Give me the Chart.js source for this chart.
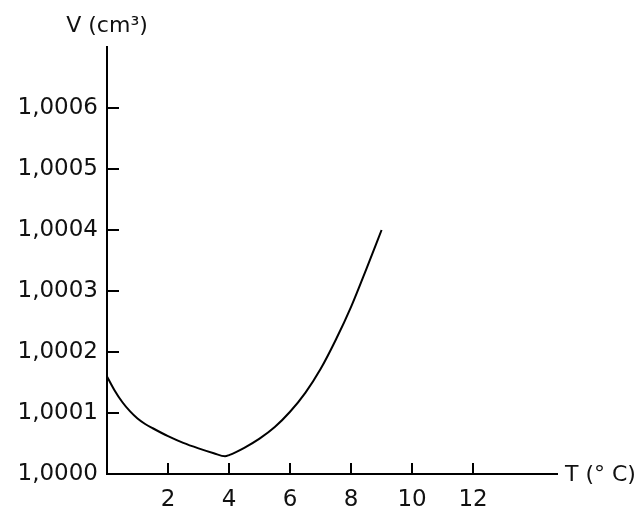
<!DOCTYPE html>
<html>
<head>
<meta charset="utf-8">
<title>V (cm³) - T (° C)</title>
<script src="https://cdn.jsdelivr.net/npm/chart.js@4.4.0/dist/chart.umd.min.js"></script>
<style>
  html, body { margin: 0; padding: 0; background: #fff; }
  #wrap { width: 639px; height: 510px; position: relative; }
</style>
</head>
<body>
<div id="wrap"><canvas id="volChart"></canvas></div>
<script>
// Data
const temps = [0, 0.25, 0.5, 0.75, 1, 1.25, 1.5, 2, 2.5, 3, 3.5, 3.87, 4, 4.5, 5, 5.5, 6, 6.5, 7, 7.5, 8, 8.5, 9];
const volumes = [1.000160, 1.000137, 1.000118, 1.000103, 1.000091, 1.000082, 1.000075, 1.000062, 1.000051, 1.000042,
                 1.000034, 1.000029, 1.000031, 1.000043, 1.000058, 1.000077, 1.000102, 1.000133, 1.000172, 1.000220,
                 1.000274, 1.000336, 1.000400];
const xTicks = [2, 4, 6, 8, 10, 12];
const yTicks = [1.0000, 1.0001, 1.0002, 1.0003, 1.0004, 1.0005, 1.0006];
const yTickLabels = ['1,0000', '1,0001', '1,0002', '1,0003', '1,0004', '1,0005', '1,0006'];
const yTitle = 'V (cm³)';
const xTitle = 'T (° C)';

const FONT = "'DejaVu Sans', Verdana, sans-serif";

// short tick marks pointing inside the plot + axis titles
const axisExtras = {
    id: 'axisExtras',
    afterDraw(chart) {
        const ctx = chart.ctx;
        const x = chart.scales.x, y = chart.scales.y;
        const area = chart.chartArea;
        ctx.save();
        ctx.strokeStyle = '#000';
        ctx.lineWidth = 2;
        ctx.beginPath();
        yTicks.forEach(v => {
            if (v === yTicks[0]) return;
            const py = Math.round(y.getPixelForValue(v));
            ctx.moveTo(area.left, py);
            ctx.lineTo(area.left + 12, py);
        });
        xTicks.forEach(v => {
            const px = Math.round(x.getPixelForValue(v));
            ctx.moveTo(px, area.bottom);
            ctx.lineTo(px, area.bottom - 11);
        });
        ctx.stroke();

        ctx.fillStyle = '#111';
        ctx.font = '22px ' + FONT;
        ctx.textBaseline = 'middle';
        ctx.textAlign = 'center';
        ctx.fillText(yTitle, area.left, 26);
        ctx.textAlign = 'left';
        ctx.fillText(xTitle, area.right + 8, area.bottom + 1);
        ctx.restore();
    }
};

const ctx = document.getElementById('volChart').getContext('2d');
new Chart(ctx, {
    type: 'line',
    data: {
        datasets: [{
            label: 'V',
            data: temps.map((t, i) => ({ x: t, y: volumes[i] })),
            borderColor: '#000',
            borderWidth: 2,
            pointRadius: 0,
            fill: false,
            cubicInterpolationMode: 'monotone'
        }]
    },
    options: {
        responsive: true,
        maintainAspectRatio: false,
        animation: false,
        layout: { padding: { top: 47, right: 82, left: 0, bottom: 0 } },
        plugins: {
            legend: { display: false },
            tooltip: { enabled: false }
        },
        scales: {
            x: {
                type: 'linear',
                min: 0,
                max: 14.75,
                afterBuildTicks: s => { s.ticks = xTicks.map(v => ({ value: v })); },
                afterFit: s => { s.height = 36; },
                grid: { display: false, drawTicks: false },
                border: { display: true, color: '#000', width: 2 },
                ticks: {
                    color: '#111',
                    padding: 12,
                    font: { family: FONT, size: 23 },
                    maxRotation: 0
                }
            },
            y: {
                type: 'linear',
                min: 1.0000,
                max: 1.0007,
                afterBuildTicks: s => { s.ticks = yTicks.map(v => ({ value: v })); },
                afterFit: s => { s.width = 107; },
                grid: { display: false, drawTicks: false },
                border: { display: true, color: '#000', width: 2 },
                ticks: {
                    color: '#111',
                    padding: 9,
                    font: { family: FONT, size: 23 },
                    callback: (v, i) => yTickLabels[i]
                }
            }
        }
    },
    plugins: [axisExtras]
});
</script>
</body>
</html>
